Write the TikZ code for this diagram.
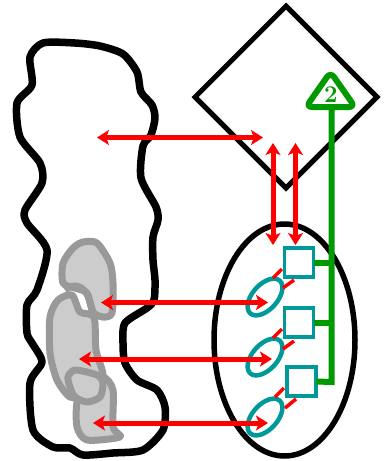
\documentclass[tikz,border=0pt]{standalone}
\usetikzlibrary{arrows.meta,shapes.geometric}
\definecolor{redc}{RGB}{255,0,0}
\definecolor{greenc}{RGB}{0,153,0}
\definecolor{tealc}{RGB}{0,153,153}
\definecolor{greyl}{RGB}{204,204,204}
\definecolor{greyd}{RGB}{153,153,153}
\tikzset{
  x=1pt,y=-1pt,
  outline/.style={draw=black,line width=7.5pt,line join=round},
  greyblob/.style={draw=greyd,fill=greyl,line width=7pt,line join=round},
  boxnode/.style={draw=tealc,fill=white,line width=3.5pt,minimum size=29pt,inner sep=0pt,outer sep=0pt},
  ovalnode/.style={draw=tealc,line width=4.5pt,ellipse,minimum width=44pt,minimum height=25pt,inner sep=0pt,rotate=48},
  link/.style={draw=redc,line width=3.5pt},
  redarrow/.style={draw=redc,line width=5pt,{Stealth[length=12pt,width=15pt,inset=3pt]}-{Stealth[length=12pt,width=15pt,inset=3pt]}},
  greenbus/.style={draw=greenc,line width=6pt},
}
\begin{document}
\begin{tikzpicture}
\useasboundingbox (0,0) rectangle (387,461);
\fill[white] (0,0) rectangle (387,461);
% outline
\draw[outline] plot[smooth cycle,tension=0.45] coordinates {(43,43) (75,43) (100,46) (123,54) (137,72) (141,92) (152,105) (155,118) (151,135) (143,146) (141,178) (156,207) (158,220) (153,237) (153,260) (155,280) (154,300) (147,308) (125,323) (123,343) (125,363) (137,380) (157,390) (165,407) (163,430) (143,450) (113,453) (83,455) (70,448) (53,447) (33,430) (30,383) (42,362) (32,343) (27,333) (27,305) (37,290) (47,250) (27,223) (25,210) (42,183) (40,163) (20,137) (17,103) (32,85) (30,57)};
% grey blobs
\draw[greyblob] plot[smooth cycle,tension=0.45] coordinates {(83,242) (97,243) (110,263) (113,283) (112,313) (103,317) (93,312) (87,293) (75,288) (63,283) (63,263) (73,248)};
\draw[greyblob] plot[smooth cycle,tension=0.45] coordinates {(77,402) (77,427) (87,440) (120,437) (113,427) (113,390) (103,377) (85,385)};
\draw[greyblob] plot[smooth cycle,tension=0.45] coordinates {(72,295) (58,300) (50,317) (50,353) (57,380) (70,397) (85,395) (103,378) (96,350) (94,317) (80,312)};
\draw[greyblob] plot[smooth cycle,tension=0.45] coordinates {(68,377) (75,370) (97,375) (103,383) (100,397) (87,402) (75,397) (70,387)};
\draw[draw=greyd,line width=7pt] (65,290) .. controls (72,284) and (82,284) .. (88,296) .. controls (90,302) and (91,306) .. (93,313);
% diamond
\node[draw=black,line width=5pt,diamond,aspect=1,minimum width=184pt,minimum height=184pt,inner sep=0pt] (dia) at (286,97) {};
% ellipse
\node[draw=black,line width=5.5pt,ellipse,minimum width=141pt,minimum height=232pt,inner sep=0pt] (ell) at (284.5,340) {};
% squares and ovals
\node[boxnode] (s1) at (299,262.5) {};
\node[boxnode] (s2) at (299,322.5) {};
\node[boxnode] (s3) at (301.5,381.5) {};
\node[ovalnode] (o1) at (265,297) {};
\node[ovalnode] (o2) at (265,357) {};
\node[ovalnode] (o3) at (265,417) {};
% green triangle and bus
\draw[greenbus,rounded corners=6pt,line join=round,fill=white] (330.5,72) -- (355,107) -- (306,107) -- cycle;
\node[text=greenc,font=\bfseries\fontsize{24}{24}\selectfont,inner sep=0pt] (two) at (331,95) {2};
\coordinate (t) at (331.5,107);
\coordinate (b3) at (331.5,382);
\draw[greenbus,line join=miter] (t) -- (b3) -- (s3.east);
\draw[greenbus] (s1.east) -- (331.5,262.5);
\draw[greenbus] (s2.east) -- (331.5,322.5);
% red links
\draw[link] (273,278) -- (282,269);
\draw[link] (283,288) -- (294,280);
\draw[link] (273,338) -- (282,329);
\draw[link] (283,349) -- (294,341);
\draw[link] (275,397) -- (284,388);
\draw[link] (285,408) -- (296,399);
% red arrows
\coordinate (a1) at (97,137.5); \coordinate (a2) at (263,137.5);
\coordinate (v1a) at (273,143); \coordinate (v1b) at (273,245);
\coordinate (v2a) at (295.5,143); \coordinate (v2b) at (295.5,245);
\coordinate (h2a) at (101,302.5); \coordinate (h2b) at (268,302.5);
\coordinate (h3a) at (79,359); \coordinate (h3b) at (272,359);
\coordinate (h4a) at (93,423); \coordinate (h4b) at (268,423);
\draw[redarrow] (a1) -- (a2);
\draw[redarrow] (v1a) -- (v1b);
\draw[redarrow] (v2a) -- (v2b);
\draw[redarrow] (h2a) -- (h2b);
\draw[redarrow] (h3a) -- (h3b);
\draw[redarrow] (h4a) -- (h4b);
\end{tikzpicture}
\end{document}
